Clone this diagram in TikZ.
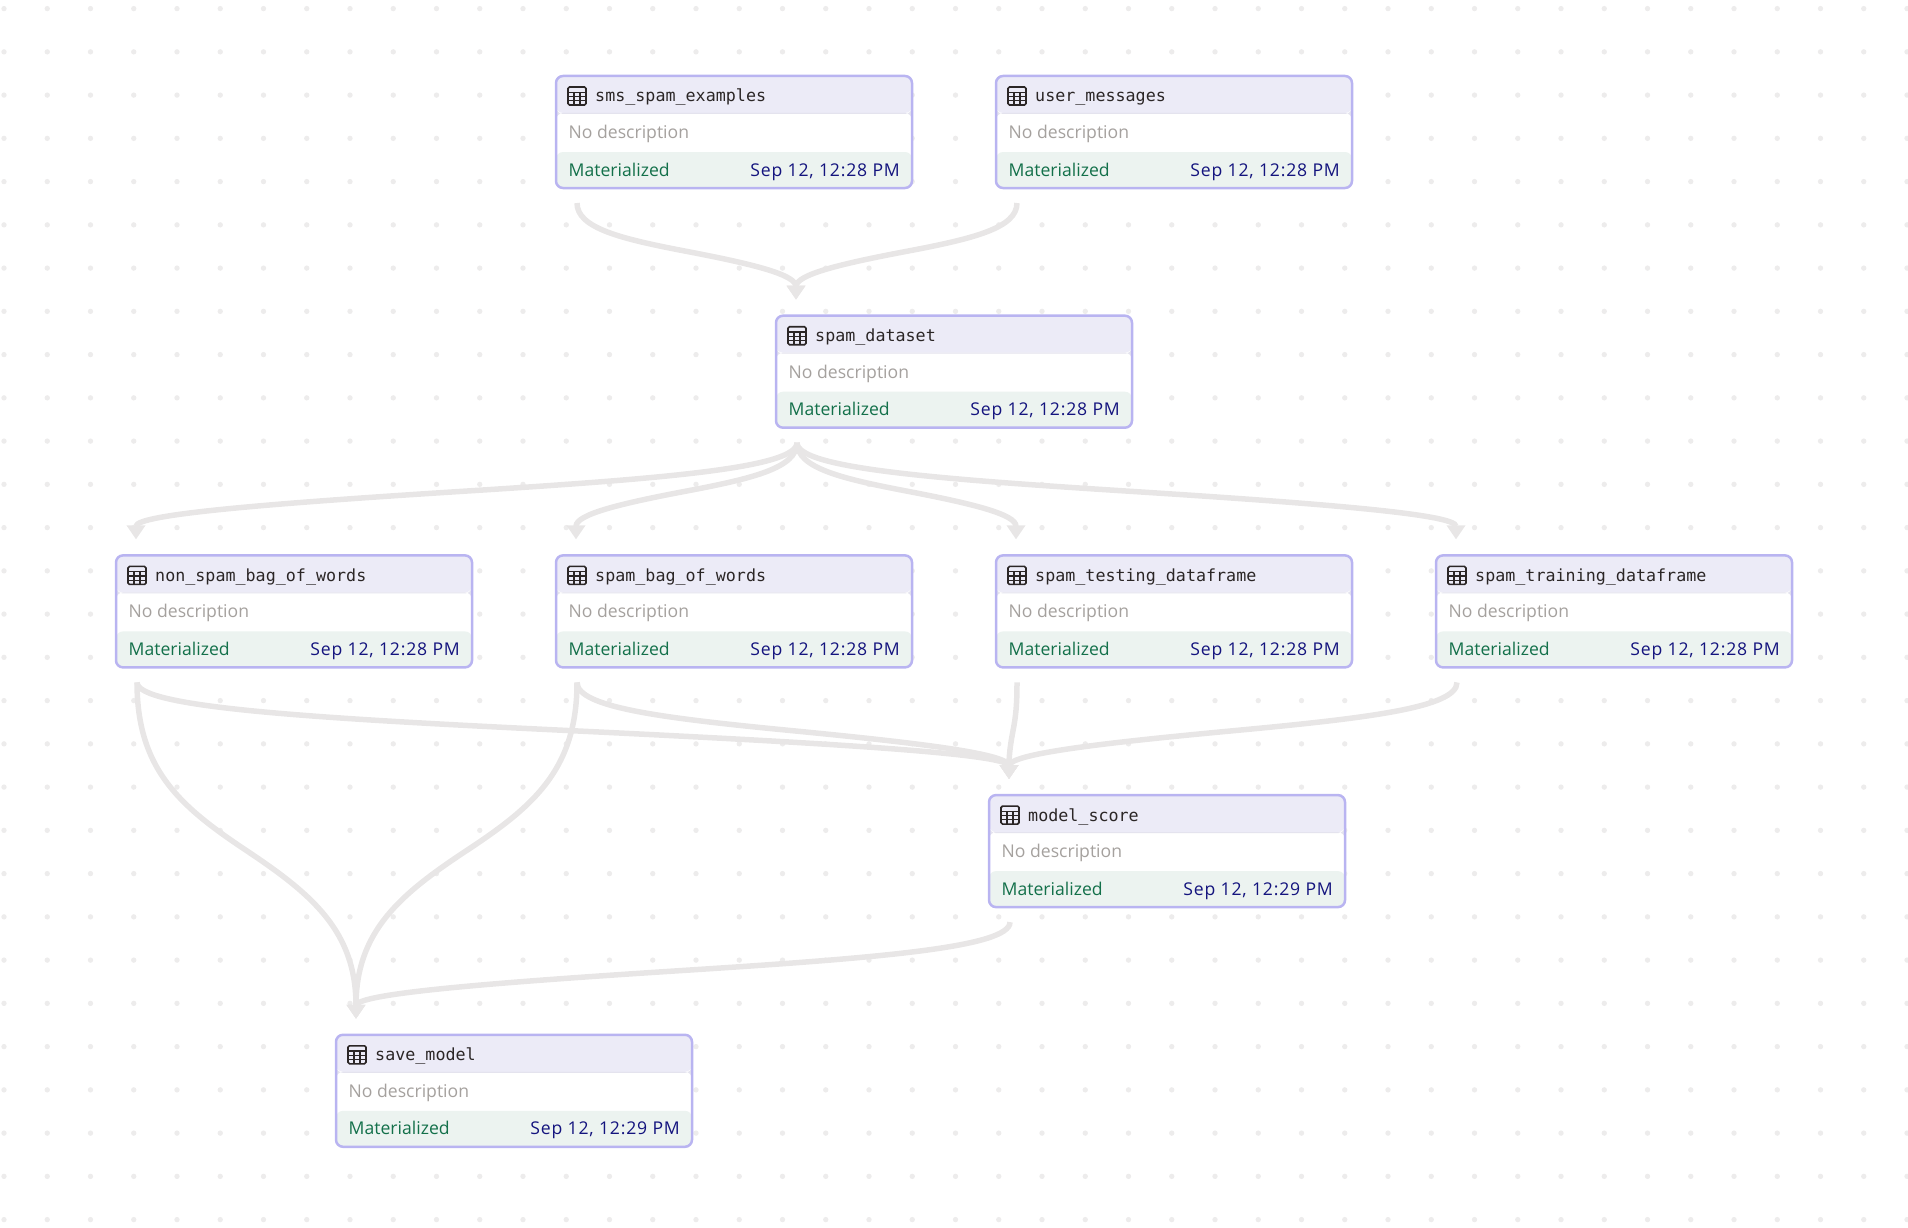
\documentclass[tikz,border=0pt]{standalone}
\usepackage{fontspec}
\setmainfont{Open Sans}
\setmonofont{DejaVu Sans Mono}
\usetikzlibrary{arrows.meta,calc}

\definecolor{cardline}{HTML}{B9B4F1}
\definecolor{cardhead}{HTML}{ECEBF7}
\definecolor{cardfoot}{HTML}{ECF3F0}
\definecolor{rowline}{HTML}{E4E3EE}
\definecolor{flowline}{HTML}{E8E6E6}
\definecolor{griddot}{HTML}{EDECEC}
\definecolor{titleink}{HTML}{2B2626}
\definecolor{descink}{HTML}{A5A19E}
\definecolor{matink}{HTML}{13704A}
\definecolor{dateink}{HTML}{14147E}

% name, left, top, title, date
\newcommand{\card}[5]{
  \node[box](#1) at (#2+179,#3+57){};
  \pic at (#2+13,#3+12) {tableicon};
  \node[boxtitle](#1-title) at (#2+40,#3+27){#4};
  \node[boxdesc](#1-desc) at (#2+13.5,#3+63.5){No description};
  \node[boxstate](#1-state) at (#2+13.5,#3+101){Materialized};
  \node[boxdate](#1-date) at (#2+345,#3+101){#5};
  \coordinate (#1-in) at (#2+21,#3-15);
  \coordinate (#1-out) at (#2+22,#3+128);
}
\newcommand{\flow}[2]{
  \draw[e] let \p1=(#1-out), \p2=(#2-in), \n1={\x2-\x1}, \n2={\y2-\y1} in
    (#1-out) .. controls (\x1,\y1+0.26*\n2) and (\x1+0.2*\n1,\y1+0.37*\n2) .. (\x1+0.5*\n1,\y1+0.5*\n2)
    .. controls (\x1+0.8*\n1,\y1+0.63*\n2) and (\x2,\y1+0.74*\n2) .. (#2-in);
}

\begin{document}
\begin{tikzpicture}[x=1pt,y=-1pt]
  \tikzset{tableicon/.pic={
    \draw[titleink,line width=1.6,rounded corners=1.5] (0,0) rectangle (18,18);
    \draw[titleink,line width=1.2] (0,5.2)--(18,5.2) (0,9.5)--(18,9.5) (0,13.7)--(18,13.7) (6,5.2)--(6,18) (12,5.2)--(12,18);
  }}
  \tikzstyle{box} = [draw=cardline, line width=2.5, rounded corners=7, fill=white,
    minimum width=356, minimum height=112, inner sep=0,
    path picture={
      \fill[cardhead] (path picture bounding box.north west) rectangle ([yshift=-37]path picture bounding box.north east);
      \fill[rowline] ([yshift=-37]path picture bounding box.north west) rectangle ([yshift=-38]path picture bounding box.north east);
      \fill[cardfoot] ([yshift=36]path picture bounding box.south west) rectangle (path picture bounding box.south east);
    }]
  \tikzstyle{boxtitle} = [anchor=base west, inner sep=0, text=titleink, font=\fontsize{16.7}{20}\selectfont\ttfamily]
  \tikzstyle{boxdesc} = [anchor=base west, inner sep=0, text=descink, font=\fontsize{17.6}{20}\selectfont]
  \tikzstyle{boxstate} = [anchor=base west, inner sep=0, text=matink, font=\fontsize{17.6}{20}\selectfont]
  \tikzstyle{boxdate} = [anchor=base east, inner sep=0, text=dateink, font=\fontsize{17.6}{20}\selectfont\addfontfeature{LetterSpace=4.5}]
  \tikzstyle{e} = [draw=flowline, line width=5.5, -{Triangle[length=14,width=18]}]

  \useasboundingbox (0,0) rectangle (1908,1228);

  % grid of dots
  \fill[griddot] \foreach \i in {0,...,44}{\foreach \j in {0,...,28}{
    (4+43.25*\i,8.6+43.25*\j) circle (2.7)}};

  \card{sms}{555}{75}{sms\_spam\_examples}{Sep 12, 12:28 PM}
  \card{user}{995}{75}{user\_messages}{Sep 12, 12:28 PM}
  \card{dataset}{775}{314.7}{spam\_dataset}{Sep 12, 12:28 PM}
  \card{nonspam}{115}{554.4}{non\_spam\_bag\_of\_words}{Sep 12, 12:28 PM}
  \card{spambag}{555}{554.4}{spam\_bag\_of\_words}{Sep 12, 12:28 PM}
  \card{testing}{995}{554.4}{spam\_testing\_dataframe}{Sep 12, 12:28 PM}
  \card{training}{1435}{554.4}{spam\_training\_dataframe}{Sep 12, 12:28 PM}
  \card{score}{988}{794.1}{model\_score}{Sep 12, 12:29 PM}
  \card{save}{335}{1033.8}{save\_model}{Sep 12, 12:29 PM}

  \flow{sms}{dataset}
  \flow{user}{dataset}
  \flow{dataset}{nonspam}
  \flow{dataset}{spambag}
  \flow{dataset}{testing}
  \flow{dataset}{training}
  \flow{nonspam}{score}
  \flow{spambag}{score}
  \flow{testing}{score}
  \flow{training}{score}
  \flow{nonspam}{save}
  \flow{spambag}{save}
  \flow{score}{save}
\end{tikzpicture}
\end{document}
